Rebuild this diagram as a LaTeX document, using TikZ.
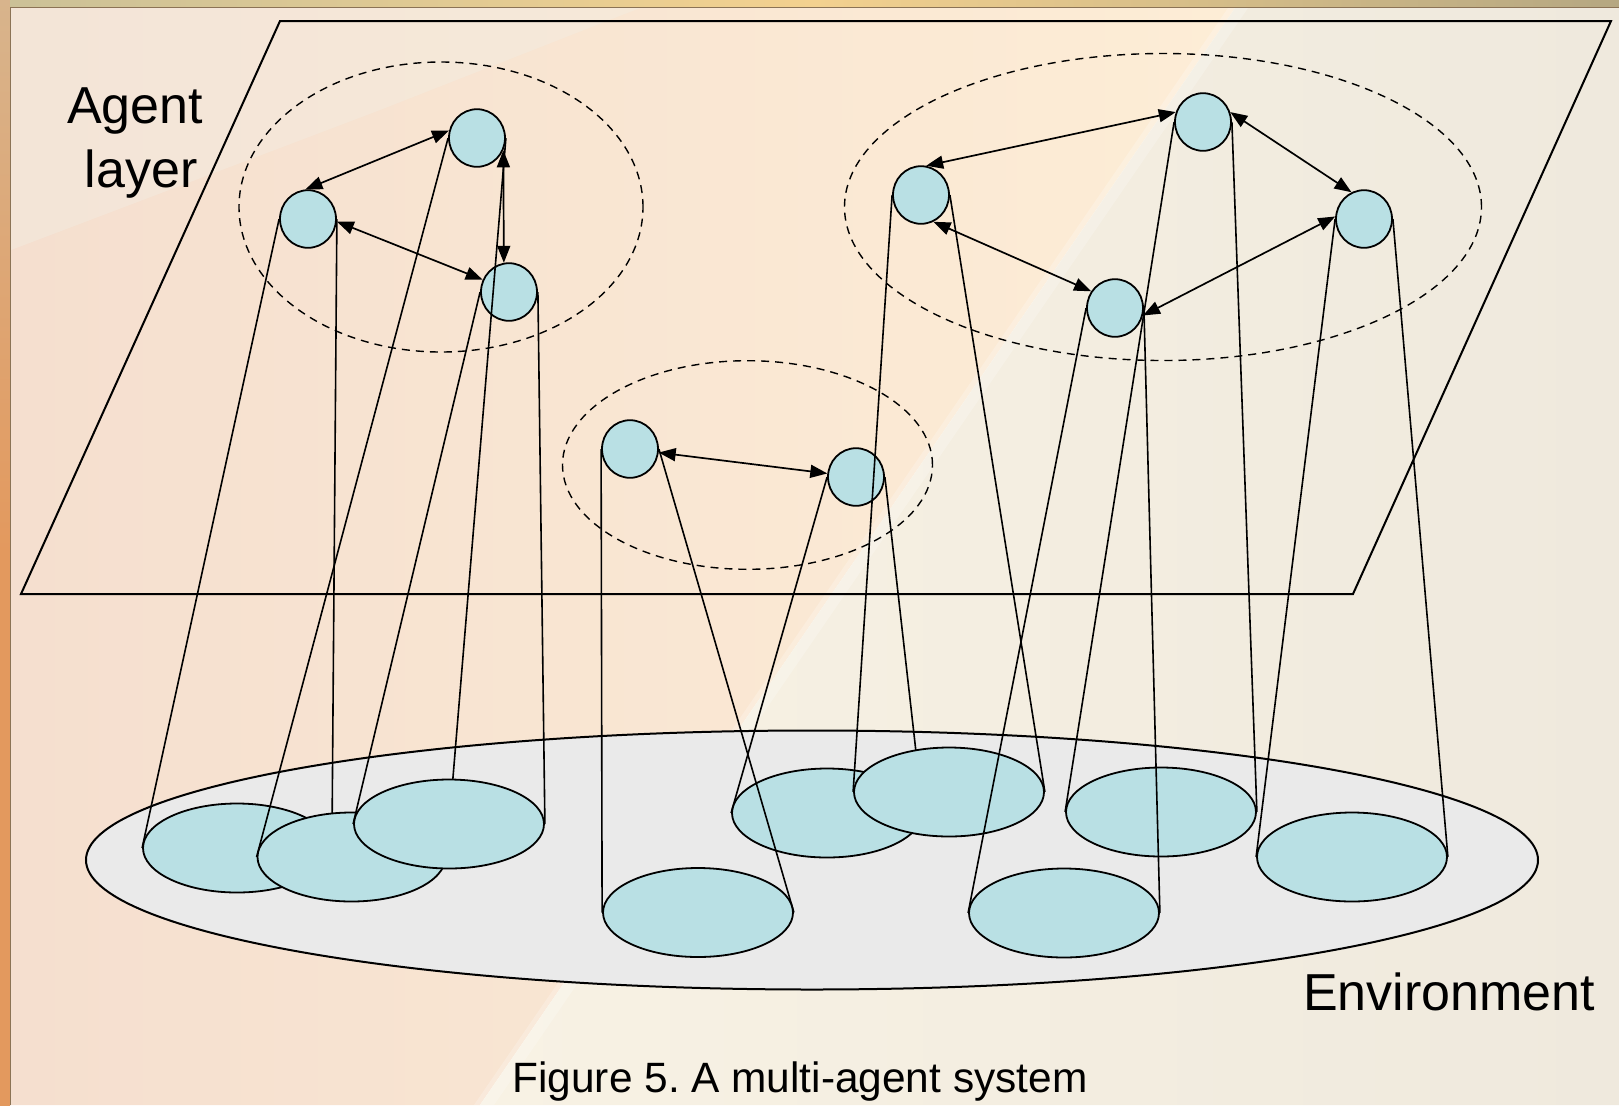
\documentclass[tikz,border=0pt]{standalone}
\usepackage{fontspec}
\setmainfont{Liberation Sans}
\usetikzlibrary{shapes.geometric,arrows.meta}

\definecolor{agentfill}{HTML}{B9E0E4}
\definecolor{envfill}{HTML}{EAEAEA}
\definecolor{frameorange}{HTML}{E3995E}
\definecolor{frametan}{HTML}{D8B48C}
\definecolor{frameline}{HTML}{8B7355}
\definecolor{bandkhaki}{HTML}{CBC197}
\definecolor{bandgold}{HTML}{F3D18F}
\definecolor{bandgrey}{HTML}{B5A781}
\definecolor{peachleft}{HTML}{F5DFCF}
\definecolor{peachright}{HTML}{FDEDD6}
\definecolor{creamleft}{HTML}{F8F2E4}
\definecolor{creamright}{HTML}{EFE9DD}
\definecolor{paletop}{HTML}{F2EEE4}

\begin{document}
\begin{tikzpicture}[x=0.5pt,y=-0.5pt,
  agent/.style={ellipse,draw,fill=agentfill,line width=0.9pt,
    minimum width=28pt,minimum height=28.8pt,inner sep=0pt},
  patch/.style={ellipse,draw,fill=agentfill,line width=0.9pt,
    minimum width=95pt,minimum height=44.5pt,inner sep=0pt},
  group/.style={ellipse,draw,dash pattern=on 4pt off 3pt,line width=0.7pt,
    inner sep=0pt},
  tie/.style={line width=0.8pt},
  link/.style={line width=0.85pt,
    {Triangle[length=8.5pt,width=6.5pt]}-{Triangle[length=8.5pt,width=6.5pt]}},
  bigtext/.style={anchor=base,inner sep=0pt,font=\fontsize{26}{32}\selectfont},
]
\useasboundingbox (0,0) rectangle (1619,1105);

% slide background: frame strips and a two-tone panel split by a diagonal streak
\shade[top color=frametan,bottom color=frameorange,middle color=frameorange]
  (0,0) rectangle (10,1105);
\shade[left color=bandkhaki,right color=bandgrey,middle color=bandgold]
  (10,0) rectangle (1619,7);
\shade[left color=peachleft,right color=peachright]
  (11,8) -- (1235,8) -- (480,1105) -- (11,1105) -- cycle;
\shade[left color=creamleft,right color=creamright]
  (1235,8) -- (1619,8) -- (1619,1105) -- (480,1105) -- cycle;
\fill[paletop,opacity=0.4] (11,8) -- (640,8) -- (380,110) -- (11,250) -- cycle;
\fill[white,opacity=0.22] (1228,8) -- (1248,8) -- (494,1105) -- (474,1105) -- cycle;
\draw[frameline,line width=0.8pt] (10.5,1105) -- (10.5,7.5) -- (1619,7.5);

% agent layer plane
\draw[line width=1pt] (280,21) -- (1611,21) -- (1353,594) -- (21,594) -- cycle;

% environment
\node[ellipse,draw,fill=envfill,line width=1pt,inner sep=0pt,
  minimum width=726pt,minimum height=129.5pt] (env) at (812,860) {};

% agent groups
\node[group,minimum width=202pt,minimum height=145pt] (G1) at (441,207) {};
\node[group,minimum width=318.5pt,minimum height=153.5pt] (G2) at (1163,207) {};
\node[group,minimum width=185pt,minimum height=104.3pt] (G3) at (747.5,465) {};

% agents
\node[agent] (A1) at (308,219) {};
\node[agent] (A2) at (477,138) {};
\node[agent] (A3) at (509,292) {};
\node[agent] (A4) at (630,449) {};
\node[agent] (A5) at (856,477) {};
\node[agent] (B1) at (921,195) {};
\node[agent] (B2) at (1203,122) {};
\node[agent] (B3) at (1364,219) {};
\node[agent] (B4) at (1115,308) {};

% regions of the environment, each with the cone from its agent
\node[patch,minimum width=94pt] (E1) at (237,848) {};
\draw[tie] (A1.west) -- (E1.west) (A1.east) -- (E1.east);
\node[patch,minimum width=94pt] (E2) at (351.5,857) {};
\draw[tie] (A2.west) -- (E2.west) (A2.east) -- (E2.east);
\node[patch] (E3) at (449,824) {};
\draw[tie] (A3.west) -- (E3.west) (A3.east) -- (E3.east);
\node[patch] (E4) at (698,912.5) {};
\node[patch] (E5) at (827,813) {};
\draw[tie] (A5.west) -- (E5.west) (A5.east) -- (E5.east);
\node[patch] (E6) at (949,792) {};
\node[patch] (E7) at (1064,913) {};
\node[patch] (E8) at (1161,812) {};
\node[patch] (E9) at (1352,857) {};
\draw[tie] (A4.west) -- (E4.west) (A4.east) -- (E4.east);
\draw[tie] (B1.west) -- (E6.west) (B1.east) -- (E6.east);
\draw[tie] (B2.west) -- (E8.west) (B2.east) -- (E8.east);
\draw[tie] (B3.west) -- (E9.west) (B3.east) -- (E9.east);
\draw[tie] (B4.west) -- (E7.west) (B4.east) -- (E7.east);

% interactions between agents
\draw[link] (A1.95) -- (A2.165);
\draw[link] (A1.-5) -- (A3.155);
\draw[link] (A2.-25) -- (A3.100);
\draw[link] (A4) -- (A5);
\draw[link] (B1.80) -- (B2.160);
\draw[link] (B2.20) -- (B3.115);
\draw[link] (B1.-65) -- (B4.145);
\draw[link] (B3.175) -- (B4.-15);

% labels
\node[bigtext] (lblAgent) at (135,123) {Agent};
\node[bigtext] (lblLayer) at (141,187.5) {layer};
\node[bigtext] (lblEnv) at (1449,1010) {Environment};
\node[anchor=base,inner sep=0pt,font=\fontsize{21.2}{25}\selectfont] (caption)
  at (800,1092) {Figure 5.\ A multi-agent system};
\end{tikzpicture}
\end{document}
